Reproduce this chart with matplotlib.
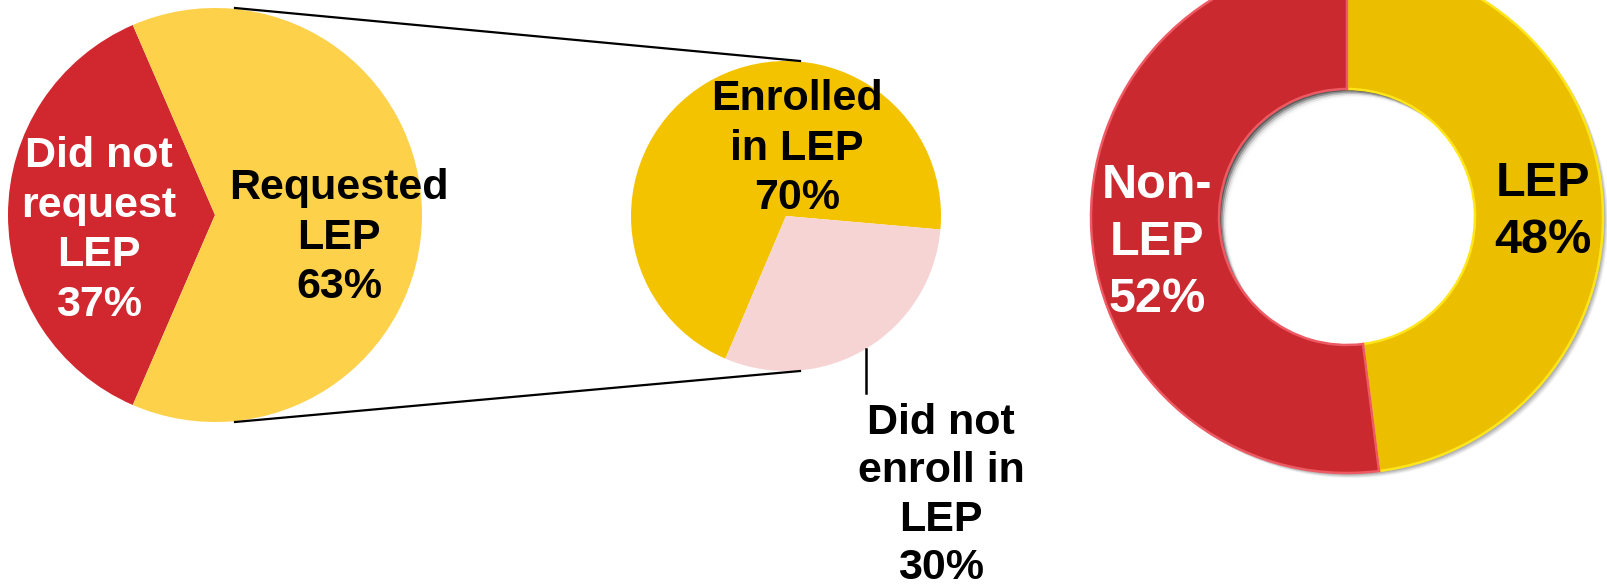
import numpy as np
import matplotlib.pyplot as plt
from matplotlib.patches import Circle

plt.rcParams['font.family'] = ['Liberation Sans', 'DejaVu Sans']
plt.rcParams['font.weight'] = 'bold'

# left pie: requested LEP or not
req_labels = ['Did not\nrequest\nLEP\n37%', 'Requested\nLEP\n63%']
req_values = [37, 63]
req_colors = ['#D1282F', '#FDD14A']

# middle pie: enrollment among those who requested
enr_labels = ['Enrolled\nin LEP\n70%', 'Did not\nenroll in\nLEP\n30%']
enr_values = [70, 30]
enr_colors = ['#F4C300', '#F7D4D4']

# donut on the right
lep_labels = ['LEP\n48%', 'Non-\nLEP\n52%']
lep_values = [48, 52]
lep_colors = ['#ECBE00', '#C9292F']
lep_edges = ['#FFE61A', '#EE5A63']

W, H = 1608, 587
fig = plt.figure(figsize=(W / 100, H / 100), dpi=100)
ax = fig.add_axes([0, 0, 1, 1])

# centres / radii in pixel units (y measured from the top of the image)
c1, r1 = (215, H - 215), 207
c2, r2 = (786, H - 216), 155
c3, r3 = (1347, H - 217), 256
hole = 0.50

# left pie, red slice centred on the left
start1 = 180 - 180 * req_values[0] / sum(req_values)
ax.pie(req_values, colors=req_colors, startangle=start1, center=c1, radius=r1,
       wedgeprops=dict(linewidth=0))

# middle pie
w2, _ = ax.pie(enr_values, colors=enr_colors, startangle=-5, center=c2, radius=r2,
               wedgeprops=dict(linewidth=0))

# connector lines between the two pies
ax.plot([c1[0] + 20, c2[0] + 14], [c1[1] + r1, c2[1] + r2], color='black', lw=1.6)
ax.plot([c1[0] + 20, c2[0] + 14], [c1[1] - r1, c2[1] - r2], color='black', lw=1.6)

# leader line from the pink slice
mid = np.deg2rad((w2[1].theta1 + w2[1].theta2) / 2)
lx = c2[0] + r2 * np.cos(mid)
ly = c2[1] + r2 * np.sin(mid)
ax.plot([lx, lx], [ly, ly - 44], color='black', lw=1.8)

# donut shadow behind the ring
for k, a in enumerate([0.18, 0.15, 0.12, 0.08]):
    ax.add_patch(Circle((c3[0] + 2 + k, c3[1] - 2 - k), r3, color='#505050',
                        alpha=a, lw=0, zorder=0.2))
rin = r3 * hole
ax.add_patch(Circle(c3, rin + 2, color='white', lw=0, zorder=0.3))
ax.add_patch(Circle(c3, rin, color='#5a5a5a', lw=0, zorder=0.4))
for k, a in enumerate([0.3, 0.45, 0.6, 0.75, 0.9, 1.0]):
    ax.add_patch(Circle((c3[0] + 2 + 1.5 * k, c3[1] - 2 - 1.5 * k), rin, color='white',
                        alpha=a, lw=0, zorder=0.5))

w3, _ = ax.pie(lep_values, colors=lep_colors, startangle=90, counterclock=False,
               center=c3, radius=r3, wedgeprops=dict(width=r3 * (1 - hole), linewidth=1.8))
for w, ec in zip(w3, lep_edges):
    w.set_edgecolor(ec)
    w.set_zorder(1)

# labels
fs, ls = 31, 1.31
ax.text(99, H - 136, req_labels[0], ha='center', va='top', color='white',
        fontsize=fs, linespacing=ls)
ax.text(339, H - 168, req_labels[1], ha='center', va='top', color='black',
        fontsize=fs, linespacing=ls)
ax.text(797, H - 79, enr_labels[0], ha='center', va='top', color='black',
        fontsize=fs, linespacing=ls)
ax.text(941, H - 403, enr_labels[1], ha='center', va='top', color='black',
        fontsize=fs, linespacing=1.27)
ax.text(1543, H - 161, lep_labels[0], ha='center', va='top', color='black',
        fontsize=35, linespacing=1.34)
ax.text(1157, H - 163, lep_labels[1], ha='center', va='top', color='white',
        fontsize=35, linespacing=1.34)

ax.set_xlim(0, W)
ax.set_ylim(0, H)
ax.set_aspect('equal')
ax.axis('off')

fig.savefig('out.png', dpi=100, facecolor='white')
